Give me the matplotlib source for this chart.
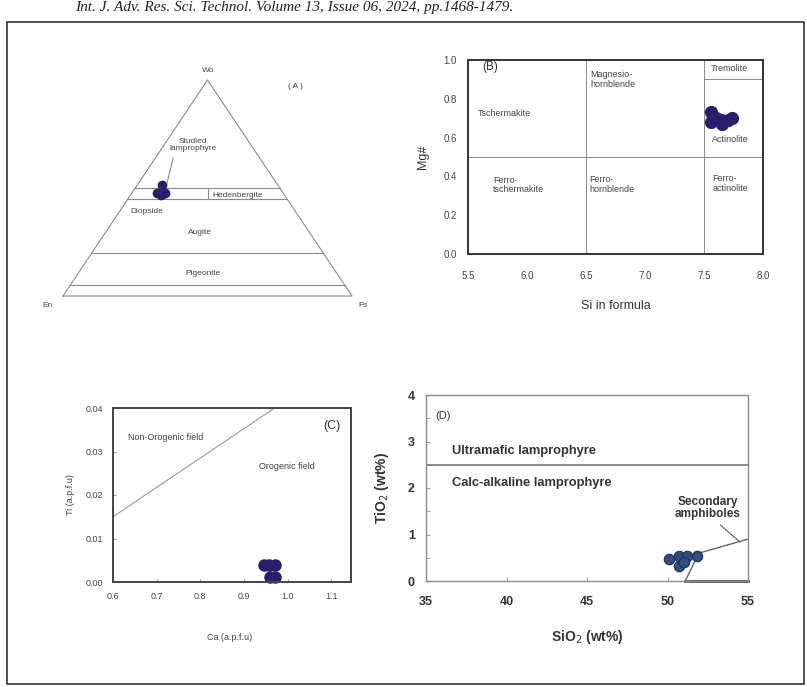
import matplotlib.pyplot as plt

# clinopyroxene ternary (Wo-En-Fs, mol%)
wo = [51.4, 47.7, 47.7, 46.8]
en = [40.0, 43.6, 40.8, 42.7]
fs = [8.6, 8.7, 11.5, 10.5]

# amphibole classification
si_formula = [7.56, 7.56, 7.60, 7.64, 7.65, 7.70, 7.74]
mg_number = [0.73, 0.68, 0.70, 0.69, 0.67, 0.69, 0.70]

# Ti vs Ca (a.p.f.u)
ca_apfu = [0.945, 0.958, 0.970, 0.960, 0.970]
ti_apfu = [0.0039, 0.0039, 0.0039, 0.0012, 0.0012]

# TiO2 vs SiO2 (wt%)
sio2 = [50.1, 50.7, 51.2, 51.85, 50.7, 51.0]
tio2 = [0.47, 0.54, 0.54, 0.54, 0.33, 0.41]

W, H = 807, 687
pt_col = '#2a1d6b'
txt_col = '#444444'
line_col = '#8a8a8a'
sans = 'Liberation Sans'

plt.rcParams['font.family'] = sans

fig = plt.figure(figsize=(W / 100, H / 100), dpi=100)


def box(l, r, t, b):
    return [l / W, 1 - b / H, (r - l) / W, (b - t) / H]


# page header and frame
fig.text(75 / W, 1 - 8 / H, 'Int. J. Adv. Res. Sci. Technol. Volume 13, Issue 06, 2024, pp.1468-1479.',
         family='Liberation Serif', style='italic', fontsize=11, va='center', ha='left', color='#222222')
frame = plt.Rectangle((7 / W, 1 - 684 / H), 797 / W, 662 / H, transform=fig.transFigure,
                      fill=False, lw=1.2, ec='#333333')
fig.add_artist(frame)

# ---- (A) pyroxene triangle ----
axa = fig.add_axes(box(63, 352, 80, 296))
axa.set_xlim(0, 1)
axa.set_ylim(0, 1)
axa.axis('off')
axa.plot([0, 0.5, 1, 0], [0, 1, 0, 0], color=line_col, lw=0.8, clip_on=False)
for w in [0.5, 0.45, 0.2, 0.05]:
    axa.plot([w / 2, 1 - w / 2], [w, w], color=line_col, lw=0.8)
axa.plot([0.5, 0.5], [0.45, 0.5], color=line_col, lw=0.8)
tx = [(f + w / 2) / 100 for w, f in zip(wo, fs)]
ty = [w / 100 for w in wo]
axa.plot(tx, ty, 'o', ms=6, color=pt_col, mec=pt_col)
axa.plot([0.381, 0.360], [0.639, 0.523], color=line_col, lw=0.8)
ka = dict(fontsize=6, color=txt_col, ha='center', va='center', clip_on=False)
axa.text(0.502, 1.042, 'Wo', **ka)
axa.text(0.803, 0.972, '( A )', **ka)
axa.text(0.450, 0.699, 'Studied\nlamprophyre', linespacing=1.1, **ka)
axa.text(0.606, 0.463, 'Hedenbergite', **ka)
axa.text(0.291, 0.389, 'Diopside', **ka)
axa.text(0.474, 0.296, 'Augite', **ka)
axa.text(0.484, 0.106, 'Pigeonite', **ka)
axa.text(-0.052, -0.042, 'En', **ka)
axa.text(1.038, -0.042, 'Fs', **ka)

# ---- (B) amphibole classification ----
axb = fig.add_axes(box(468, 763, 60, 254))
axb.set_xlim(5.5, 8.0)
axb.set_ylim(0, 1.0)
axb.set_xticks([5.5, 6.0, 6.5, 7.0, 7.5, 8.0])
axb.set_yticks([0, 0.2, 0.4, 0.6, 0.8, 1.0])
axb.tick_params(length=0, labelsize=7, labelcolor=txt_col)
axb.tick_params(axis='x', pad=12)
axb.tick_params(axis='y', pad=8)
axb.set_xticklabels(['5.5', '6.0', '6.5', '7.0', '7.5', '8.0'])
axb.set_yticklabels(['0.0', '0.2', '0.4', '0.6', '0.8', '1.0'])
for s in axb.spines.values():
    s.set_color('#333333')
    s.set_linewidth(1.4)
axb.axvline(6.5, color=line_col, lw=0.7)
axb.axvline(7.5, color=line_col, lw=0.7)
axb.axhline(0.5, color=line_col, lw=0.7)
axb.plot([7.5, 8.0], [0.9, 0.9], color=line_col, lw=0.7)
axb.plot(si_formula, mg_number, 'o', ms=8.5, color=pt_col, mec=pt_col)
kb = dict(fontsize=6.5, color=txt_col, ha='left', va='center', linespacing=1.1)
axb.text(5.62, 0.965, '(B)', fontsize=8.5, color='#333333', ha='left', va='center')
axb.text(6.54, 0.90, 'Magnesio-\nhornblende', **kb)
axb.text(7.56, 0.955, 'Tremolite', **kb)
axb.text(5.58, 0.725, 'Tschermakite', **kb)
axb.text(7.57, 0.59, 'Actinolite', **kb)
axb.text(5.71, 0.355, 'Ferro-\ntschermakite', **kb)
axb.text(6.53, 0.36, 'Ferro-\nhornblende', **kb)
axb.text(7.57, 0.365, 'Ferro-\nactinolite', **kb)
axb.set_xlabel('Si in formula', fontsize=9, color='#333333', labelpad=14)
axb.set_ylabel('Mg#', fontsize=9, color='#333333', labelpad=10)

# ---- (C) Ti vs Ca ----
axc = fig.add_axes(box(113, 351, 408, 582))
axc.set_xlim(0.6, 1.145)
axc.set_ylim(0, 0.04)
axc.set_xticks([0.6, 0.7, 0.8, 0.9, 1.0, 1.1])
axc.set_yticks([0, 0.01, 0.02, 0.03, 0.04])
axc.set_xticklabels(['0.6', '0.7', '0.8', '0.9', '1.0', '1.1'])
axc.set_yticklabels(['0.00', '0.01', '0.02', '0.03', '0.04'])
axc.tick_params(direction='in', length=2.5, color='#999999', labelsize=6.5, labelcolor=txt_col, pad=7)
for s in axc.spines.values():
    s.set_color('#444444')
    s.set_linewidth(1.4)
axc.plot([0.6, 0.97], [0.015, 0.04], color='#999999', lw=0.8)
axc.plot(ca_apfu, ti_apfu, 'o', ms=8, color=pt_col, mec=pt_col, clip_on=False)
axc.text(0.72, 0.0332, 'Non-Orogenic field', fontsize=6.5, color=txt_col, ha='center', va='center')
axc.text(0.935, 0.0265, 'Orogenic field', fontsize=6.5, color=txt_col, ha='left', va='center')
axc.text(1.12, 0.0358, '(C)', fontsize=9, color='#333333', ha='right', va='center')
axc.set_ylabel('Ti (a.p.f.u)', fontsize=6.5, color=txt_col, labelpad=8)
fig.text(230 / W, 1 - 637 / H, 'Ca (a.p.f.u)', fontsize=6.5, color=txt_col, ha='center', va='center')

# ---- (D) TiO2 vs SiO2 ----
axd = fig.add_axes(box(426, 748, 395, 581))
axd.set_xlim(35, 55)
axd.set_ylim(0, 4)
axd.set_xticks([35, 40, 45, 50, 55])
axd.set_yticks([0, 1, 2, 3, 4])
axd.set_yticks([0.5, 1.5, 2.5, 3.5], minor=True)
axd.tick_params(which='both', direction='in', length=3, color='#999999')
axd.tick_params(labelsize=9, labelcolor='#333333')
axd.tick_params(axis='x', pad=11)
axd.tick_params(axis='y', pad=8)
for lab in axd.get_xticklabels() + axd.get_yticklabels():
    lab.set_fontweight('bold')
for s in axd.spines.values():
    s.set_color('#8a8a8a')
    s.set_linewidth(1.0)
axd.axhline(2.5, color='#777777', lw=1.2)
axd.plot([51.1, 51.95, 55], [0, 0.6, 0.9], color='#666666', lw=1.0)
axd.plot([51.1, 55], [0, 0], color='#555555', lw=2.0, clip_on=False)
axd.plot([53.3, 54.5], [1.2, 0.84], color='#666666', lw=0.9)
axd.plot(sio2, tio2, 'o', ms=7.5, color='#2f4e80', mec='#1b2f55', mew=0.8)
kd = dict(fontsize=9.3, color='#333333', fontweight='bold', va='center')
axd.text(36.6, 2.8, 'Ultramafic lamprophyre', ha='left', **kd)
axd.text(36.6, 2.1, 'Calc-alkaline lamprophyre', ha='left', **kd)
axd.text(52.5, 1.57, 'Secondary\namphiboles', ha='center', linespacing=1.05,
         **dict(kd, fontsize=8.5))
axd.text(35.6, 3.55, '(D)', fontsize=8, color='#333333', ha='left', va='center')
axd.set_xlabel('SiO$_2$ (wt%)', fontsize=10, fontweight='bold', color='#333333', labelpad=14)
axd.set_ylabel('TiO$_2$ (wt%)', fontsize=10, fontweight='bold', color='#333333', labelpad=12)

fig.savefig('out.png', dpi=100)
